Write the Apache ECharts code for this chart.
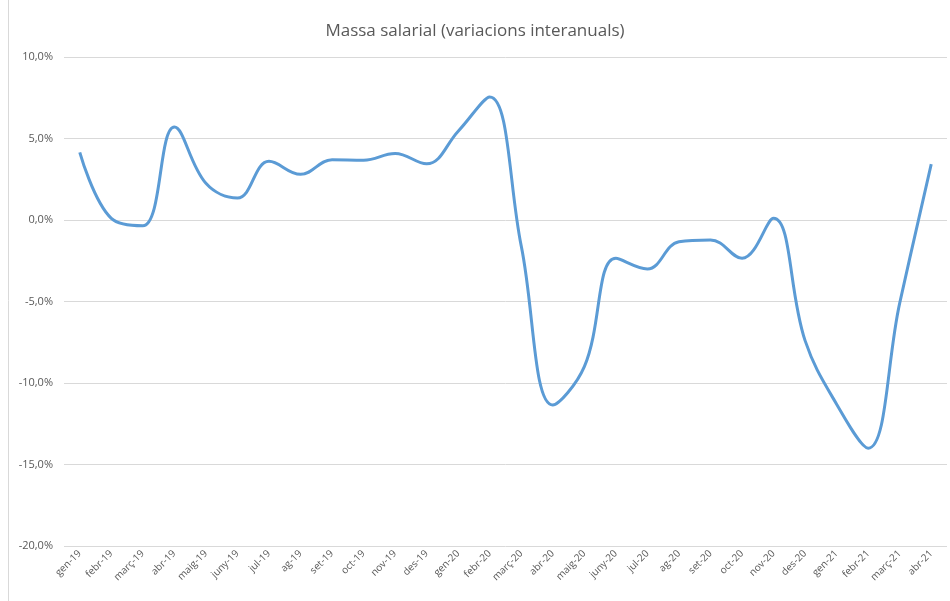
<!DOCTYPE html>
<html lang="ca">
  <head>
    <meta charset="UTF-8" />
    <title>Massa salarial</title>
    <script src="https://cdnjs.cloudflare.com/ajax/libs/echarts/6.0.0/echarts.min.js"></script>
    <style>
      html, body { margin: 0; padding: 0; background: #fff; }
      #main { width: 950px; height: 601px; }
    </style>
  </head>
  <body>
    <div id="main"></div>
    <script>
      // mesos
      var months = [
        "gen-19", "febr-19", "març-19", "abr-19", "maig-19", "juny-19", "jul-19",
        "ag-19", "set-19", "oct-19", "nov-19", "des-19", "gen-20", "febr-20",
        "març-20", "abr-20", "maig-20", "juny-20", "jul-20", "ag-20", "set-20",
        "oct-20", "nov-20", "des-20", "gen-21", "febr-21", "març-21", "abr-21"
      ];
      // variació interanual (%)
      var values = [
        4.15, 0.1, -0.35, 5.7, 2.25, 1.35, 3.6,
        2.8, 3.7, 3.67, 4.08, 3.45, 5.45, 7.55,
        -1.6, -11.35, -9.0, -2.35, -3.0, -1.33, -1.22,
        -2.35, 0.1, -7.4, -11.3, -14.0, -5.1, 3.43
      ];
      var yMin = -20, yMax = 10, yStep = 5;

      var myChart = echarts.init(document.getElementById("main"));
      var option = {
        animation: false,
        title: {
          text: "Massa salarial (variacions interanuals)",
          left: "center",
          top: 18,
          textStyle: { color: "#595959", fontSize: 17, fontWeight: "normal", fontFamily: "Open Sans" }
        },
        grid: { left: 64, right: 3, top: 57, bottom: 55 },
        xAxis: {
          type: "category",
          data: months,
          boundaryGap: true,
          axisLine: { show: false },
          axisTick: { show: false },
          axisLabel: {
            rotate: 45,
            interval: 0,
            margin: 6,
            color: "#595959",
            fontSize: 10,
            fontFamily: "Open Sans"
          }
        },
        yAxis: {
          type: "value",
          min: yMin,
          max: yMax,
          interval: yStep,
          axisLine: { show: false },
          axisTick: { show: false },
          splitLine: { lineStyle: { color: "#d9d9d9", width: 1 } },
          axisLabel: {
            margin: 11,
            color: "#595959",
            fontSize: 11,
            fontFamily: "Open Sans",
            formatter: function (v) {
              return v.toFixed(1).replace(".", ",") + "%";
            }
          }
        },
        graphic: [
          {
            type: "line",
            shape: { x1: 8.5, y1: 0, x2: 8.5, y2: 601 },
            style: { stroke: "#d9d9d9", lineWidth: 1 }
          }
        ],
        series: [
          {
            type: "line",
            data: values,
            smooth: 0.4,
            showSymbol: false,
            lineStyle: { color: "#5b9bd5", width: 3 }
          }
        ]
      };
      myChart.setOption(option);
    </script>
  </body>
</html>
